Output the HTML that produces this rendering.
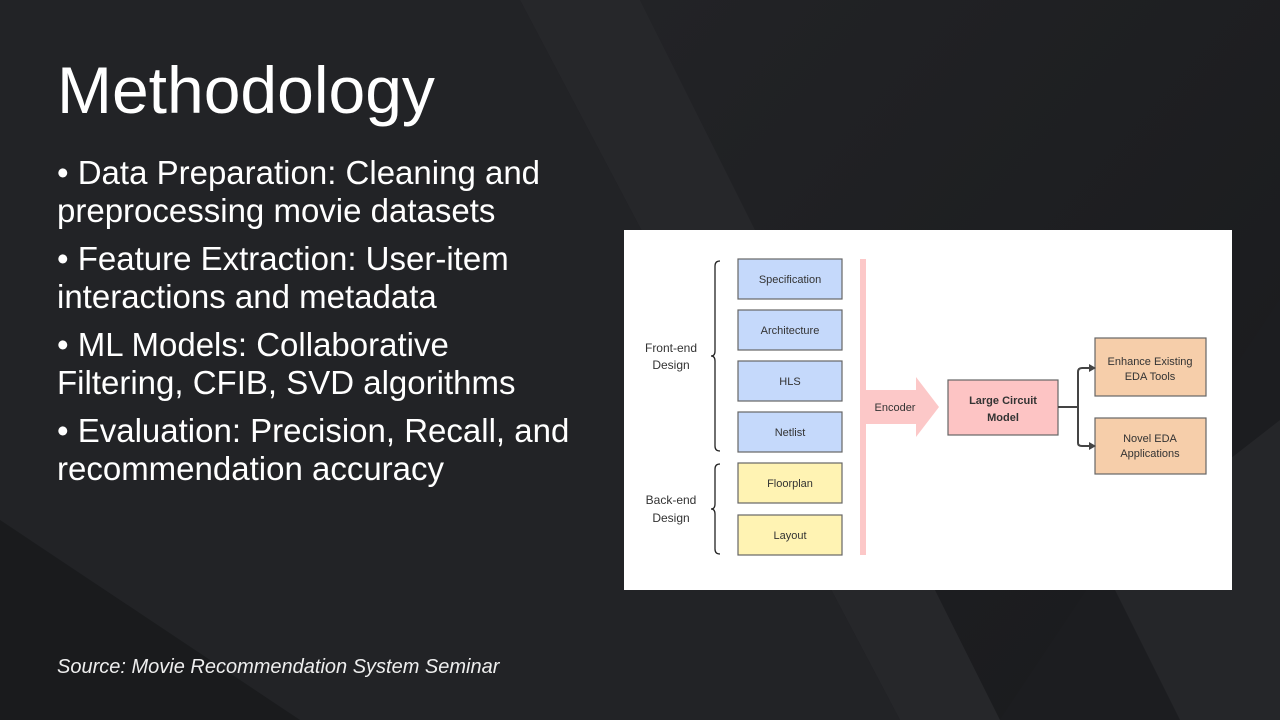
<!DOCTYPE html>
<html><head><meta charset="utf-8"><style>
html,body{margin:0;padding:0}
body{width:1280px;height:720px;overflow:hidden;position:relative;background:#1d1e21;font-family:"Liberation Sans",sans-serif;color:#fff}
.bg{position:absolute;left:0;top:0}
h1{position:absolute;left:57px;top:52px;margin:0;font-weight:400;font-size:66px}
.bul{position:absolute;left:57px;top:154px;font-size:33px;line-height:38px;width:526px}
.bul p{margin:0 0 10px 0}
.src{position:absolute;left:57px;top:656px;font-size:20px;font-style:italic;color:#eee}
</style></head><body>
<svg class="bg" width="1280" height="720">
<defs>
<linearGradient id="g1" x1="0" y1="0" x2="1" y2="1"><stop offset="0" stop-color="#26272a"/><stop offset="1" stop-color="#17181a"/></linearGradient>
</defs>
<rect width="1280" height="720" fill="#1c1d20"/>
<polygon points="0,0 520,0 900,720 0,720" fill="#222326"/>
<polygon points="520,0 640,0 1000,720 900,720" fill="#26272a"/>
<polygon points="640,0 1280,0 1280,300 1000,720" fill="url(#g1)" opacity="0.6"/>
<polygon points="1100,560 1280,420 1280,720 1180,720" fill="#252629"/>
<polygon points="0,520 300,720 0,720" fill="#1a1b1d"/>
</svg>
<h1>Methodology</h1>
<div class="bul">
<p>• Data Preparation: Cleaning and preprocessing movie datasets</p>
<p>• Feature Extraction: User-item interactions and metadata</p>
<p>• ML Models: Collaborative Filtering, CFIB, SVD algorithms</p>
<p>• Evaluation: Precision, Recall, and recommendation accuracy</p>
</div>
<div class="src">Source: Movie Recommendation System Seminar</div>
<svg style="position:absolute;left:624px;top:230px" width="608" height="360" font-family="Liberation Sans, sans-serif">
<rect width="608" height="360" fill="#fff"/>
<g stroke="#666" stroke-width="1.2">
<rect x="114" y="29" width="104" height="40" fill="#c5d9fb"/>
<rect x="114" y="80" width="104" height="40" fill="#c5d9fb"/>
<rect x="114" y="131" width="104" height="40" fill="#c5d9fb"/>
<rect x="114" y="182" width="104" height="40" fill="#c5d9fb"/>
<rect x="114" y="233" width="104" height="40" fill="#fff3b3"/>
<rect x="114" y="285" width="104" height="40" fill="#fff3b3"/>
<rect x="324" y="150" width="110" height="55" fill="#fdc4c4"/>
<rect x="471" y="108" width="111" height="58" fill="#f6ceaa"/>
<rect x="471" y="188" width="111" height="56" fill="#f6ceaa"/>
</g>
<rect x="236" y="29" width="6" height="296" fill="#fcc8c8"/>
<polygon points="242,160 292,160 292,147 315,177 292,207 292,194 242,194" fill="#fcc8c8"/>
<g fill="#333" font-size="11" text-anchor="middle">
<text x="166" y="53">Specification</text>
<text x="166" y="104">Architecture</text>
<text x="166" y="155">HLS</text>
<text x="166" y="206">Netlist</text>
<text x="166" y="257">Floorplan</text>
<text x="166" y="309">Layout</text>
<text x="271" y="181">Encoder</text>
<text x="379" y="174" font-weight="bold">Large Circuit</text>
<text x="379" y="191" font-weight="bold">Model</text>
<text x="526" y="135">Enhance Existing</text>
<text x="526" y="150">EDA Tools</text>
<text x="526" y="212">Novel EDA</text>
<text x="526" y="227">Applications</text>
<text x="47" y="122" font-size="12">Front-end</text>
<text x="47" y="139" font-size="12">Design</text>
<text x="47" y="274" font-size="12">Back-end</text>
<text x="47" y="292" font-size="12">Design</text>
</g>
<g fill="none" stroke="#222" stroke-width="1.3">
<path d="M96,31 Q91,31 91,36 L91,121 Q91,126 87,126 Q91,126 91,131 L91,216 Q91,221 96,221"/>
<path d="M96,234 Q91,234 91,239 L91,274 Q91,279 87,279 Q91,279 91,284 L91,319 Q91,324 96,324"/>
</g>
<g fill="none" stroke="#444" stroke-width="2">
<path d="M434,177 L454,177 M454,142 L454,213 M454,142 Q454,138 458,138 L467,138 M454,213 Q454,216 458,216 L467,216"/>
</g>
<polygon points="465,134 472,138 465,142" fill="#444"/>
<polygon points="465,212 472,216 465,220" fill="#444"/>
</svg>
</body></html>
